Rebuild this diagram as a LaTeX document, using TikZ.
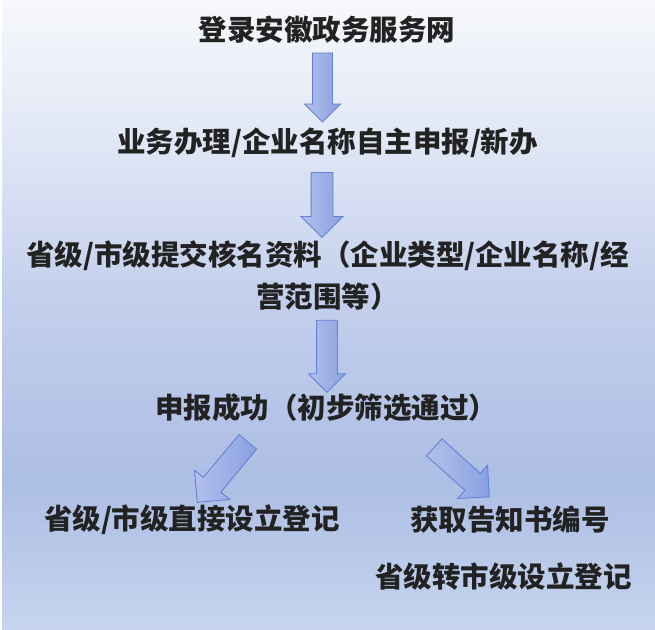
\documentclass[tikz,border=0pt]{standalone}
\usepackage{fontspec}
\usetikzlibrary{shapes.arrows,calc}
\newfontfamily\cjk{Noto Sans CJK SC}
\definecolor{bgtop}{RGB}{247,248,252}
\definecolor{bghigh}{RGB}{226,232,246}
\definecolor{bgmid}{RGB}{195,207,236}
\definecolor{bglow}{RGB}{173,190,228}
\definecolor{bgbot}{RGB}{198,212,238}
\definecolor{arrowlight}{RGB}{178,192,236}
\definecolor{arrowdark}{RGB}{138,160,224}
\definecolor{arrowline}{RGB}{98,132,210}
\definecolor{inktext}{RGB}{34,34,34}
\pgfdeclareverticalshading{bgfade}{100bp}{color(0bp)=(bgbot); color(25bp)=(bgbot); color(36.8bp)=(bglow); color(51.2bp)=(bgmid); color(64.7bp)=(bghigh); color(75bp)=(bgtop); color(100bp)=(bgtop)}
\begin{document}
\begin{tikzpicture}[x=1pt,y=1pt,
	steptext/.style={inner sep=0pt, text=inktext, align=center,
		font=\cjk\bfseries\fontsize{28.5}{42}\selectfont},
	blockarrow/.style={single arrow, draw=arrowline, line width=0.9pt,
		left color=arrowlight, right color=arrowdark, inner xsep=0pt,
		single arrow tip angle=90, single arrow head indent=0pt}]
	\useasboundingbox (0,0) rectangle (655,-629);
	\fill[white] (0,0) rectangle (655,-629);
	\shade[shading=bgfade] (2,0) rectangle (655,-629);
	% steps
	\node[steptext] (login) at (327,-30) {登录安徽政务服务网};
	\node[steptext] (apply) at (327.5,-143) {业务办理/企业名称自主申报/新办};
	\node[steptext] (submit) at (327.5,-276) {省级/市级提交核名资料（企业类型/企业名称/经\\营范围等）};
	\node[steptext] (success) at (326,-408) {申报成功（初步筛选通过）};
	\node[steptext] (direct) at (192,-520) {省级/市级直接设立登记};
	\node[steptext] (notice) at (510,-520) {获取告知书编号};
	\node[steptext] (transfer) at (503.5,-577) {省级转市级设立登记};
	% arrow ends
	\coordinate (a1s) at (322.5,-48);   \coordinate (a1e) at (322.5,-117);
	\coordinate (a2s) at (322,-167);    \coordinate (a2e) at (322,-232);
	\coordinate (a3s) at (327,-315);    \coordinate (a3e) at (327,-387);
	\coordinate (a4s) at (251.5,-437.5); \coordinate (a4e) at (201,-498);
	\coordinate (a5s) at (430,-443.5);  \coordinate (a5e) at (485,-493);
	% block arrows
	\foreach \from/\to/\half/\ext in {a1s/a1e/9.5/8, a2s/a2e/10.5/10, a3s/a3e/10/8, a4s/a4e/11/11.5, a5s/a5e/11/11}
		\path let \p1=($(\to)-(\from)$), \n1={veclen(\x1,\y1)} in
			(\from) -- (\to) node[midway, sloped, allow upside down, blockarrow,
				minimum height=\n1, inner ysep=\half, single arrow head extend=\ext] {};
\end{tikzpicture}
\end{document}
